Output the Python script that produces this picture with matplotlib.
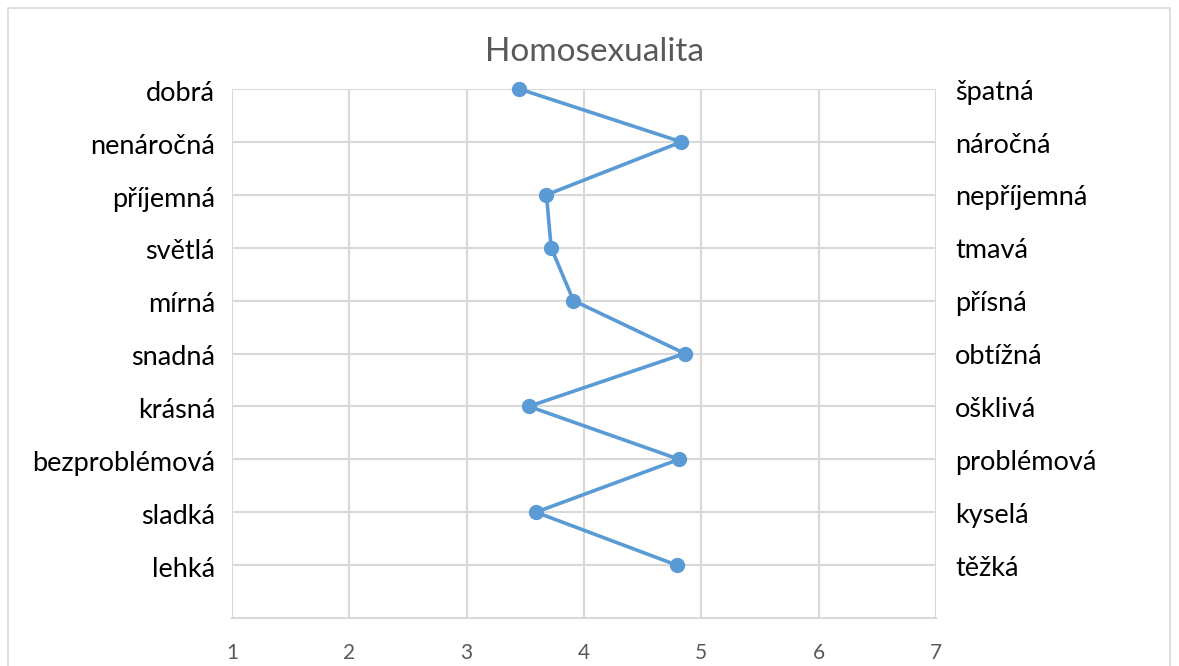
import matplotlib.pyplot as plt
from matplotlib.patches import Rectangle

plt.rcParams['font.family'] = ['Lato', 'DejaVu Sans']

# semantic differential: left pole, right pole, mean score (1-7)
left_words = ['dobrá', 'nenáročná', 'příjemná', 'světlá', 'mírná',
              'snadná', 'krásná', 'bezproblémová', 'sladká', 'lehká']
right_words = ['špatná', 'náročná', 'nepříjemná', 'tmavá', 'přísná',
               'obtížná', 'ošklivá', 'problémová', 'kyselá', 'těžká']
scores = [3.45, 4.83, 3.68, 3.72, 3.91, 4.86, 3.53, 4.81, 3.59, 4.79]
x_ticks = [1, 2, 3, 4, 5, 6, 7]

rows = list(range(len(scores), 0, -1))  # 10 at top ... 1 at bottom

fig = plt.figure(figsize=(11.79, 6.66), dpi=100)
ax = fig.add_axes([232 / 1179, 1 - 618 / 666, 704 / 1179, 529 / 666])

grid_c = '#d9d9d9'
ax.plot(scores, rows, color='#5b9bd5', lw=2.6, marker='o', ms=10, zorder=3,
        clip_on=False)

ax.set_xlim(1, 7)
ax.set_ylim(0, 10)
ax.set_xticks(x_ticks)
ax.set_yticks(rows)
ax.set_yticklabels([])
ax.tick_params(length=0)
ax.tick_params(axis='x', pad=18, labelsize=15, colors='#595959')
ax.grid(True, color=grid_c, lw=1.5)
for side in ['left', 'right', 'top']:
    ax.spines[side].set_visible(False)
ax.spines['bottom'].set_color(grid_c)
ax.spines['bottom'].set_linewidth(1.5)

for y, lw_, rw_ in zip(rows, left_words, right_words):
    ax.text(-0.024, y - 0.08, lw_, transform=ax.get_yaxis_transform(),
            ha='right', va='center', fontsize=19.5, color='black')
    ax.text(1.027, y - 0.06, rw_, transform=ax.get_yaxis_transform(),
            ha='left', va='center', fontsize=19.5, color='black')

fig.text(595 / 1179, 1 - 52 / 666, 'Homosexualita', ha='center', va='center',
         fontsize=24, color='#595959')

fig.patches.append(Rectangle((8 / 1179, -0.05), 1162 / 1179, 1.05 - 8 / 666,
                             transform=fig.transFigure, fill=False,
                             edgecolor=grid_c, lw=1.2))

fig.savefig('out.png', dpi=100)
